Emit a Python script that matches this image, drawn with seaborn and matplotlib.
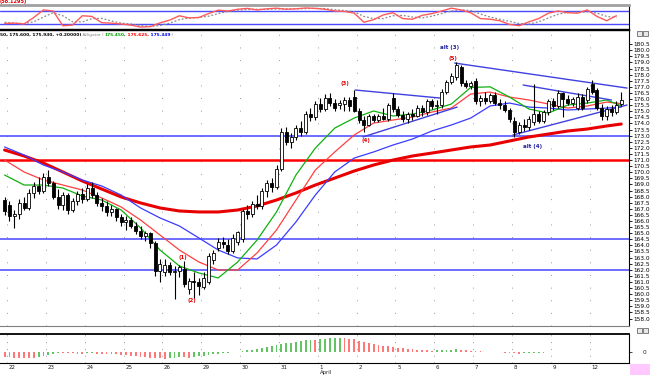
import numpy as np
import pandas as pd
import matplotlib
matplotlib.use("Agg")
import matplotlib.pyplot as plt
import seaborn as sns
from matplotlib.patches import Rectangle

# ---------------- data ----------------
day_labels = ["22", "23", "24", "25", "26", "29", "30", "31", "1", "2", "5", "6", "7", "8", "9", "12"]
month_label = "April"
month_day = "1"

opens = [
    167.7,
    167.3, 166.4, 166.6, 167.5, 167.1, 168.3, 168.9, 168.5,
    169.6, 169.1, 168.0, 167.3, 168.1, 166.9, 167.6, 168.2,
    167.8, 168.7, 168.1, 167.5, 167.2, 166.7, 167.0, 166.3,
    165.9, 166.1, 165.6, 165.2, 164.8, 165.0, 164.2, 161.9,
    161.8, 162.4, 161.8, 161.9, 162.1, 160.4, 161.1, 161.0,
    160.6, 161.0, 162.8, 163.8, 164.3, 164.0, 163.5, 164.3,
    164.5, 166.8, 166.6, 167.4, 167.2, 168.5, 169.1, 168.8,
    170.3, 173.3, 172.5, 172.9, 173.6, 173.3, 174.8, 174.5,
    175.6, 175.2, 176.1, 175.7, 175.5, 175.6, 175.9, 176.2,
    175.0, 174.3, 173.9, 174.6, 174.3, 174.6, 174.4, 176.1,
    175.2, 174.7, 174.4, 174.8, 174.6, 175.3, 174.9, 175.8,
    175.4, 175.5, 176.6, 177.4, 177.8, 178.6, 177.3, 177.1,
    177.5, 175.8, 176.1, 175.8, 176.3, 175.7, 175.5, 175.1,
    174.2, 173.3, 173.9, 173.7, 174.1, 174.8, 174.2, 174.9,
    175.8, 175.4, 176.5, 176.0, 175.7, 175.3, 176.2, 175.9,
    177.2, 176.7, 175.3, 174.6, 175.2, 174.9, 175.6,
]
highs = [
    168.0,
    167.6, 166.9, 167.8, 168.0, 168.6, 169.2, 169.6, 169.9,
    170.2, 169.3, 168.6, 168.4, 168.3, 167.9, 168.5, 168.7,
    169.0, 169.2, 168.4, 167.9, 167.6, 167.3, 167.1, 166.6,
    166.4, 166.3, 165.9, 165.6, 165.2, 165.1, 164.4, 162.9,
    162.9, 162.6, 162.3, 162.4, 162.7, 161.3, 161.8, 161.3,
    161.8, 163.4, 163.6, 164.6, 164.7, 164.5, 164.9, 165.2,
    167.0, 167.3, 167.6, 168.1, 168.7, 169.4, 169.5, 170.6,
    173.6, 173.7, 173.2, 173.9, 174.2, 175.0, 175.3, 175.8,
    176.1, 176.4, 176.5, 176.0, 175.9, 176.2, 176.2, 176.7,
    175.3, 174.6, 174.8, 174.8, 174.8, 175.3, 175.7, 176.5,
    175.4, 175.0, 174.9, 175.2, 175.5, 175.5, 176.0, 176.0,
    175.9, 176.8, 177.6, 178.1, 179.0, 178.8, 177.6, 177.5,
    177.7, 176.3, 176.6, 176.5, 176.6, 176.0, 175.8, 175.3,
    174.5, 174.1, 174.4, 174.6, 177.2, 175.0, 175.1, 176.0,
    176.1, 176.7, 176.6, 176.3, 176.2, 176.5, 176.4, 177.0,
    177.6, 176.9, 175.6, 175.4, 175.5, 175.8, 176.6,
]
lows = [
    166.5,
    166.0, 165.4, 166.2, 166.9, 166.9, 167.9, 168.2, 168.3,
    168.9, 167.8, 167.0, 166.9, 166.6, 166.7, 167.3, 167.5,
    167.6, 167.9, 167.2, 166.8, 166.4, 166.4, 166.0, 165.6,
    165.3, 165.4, 164.9, 164.5, 164.4, 163.8, 161.5, 161.0,
    161.5, 161.6, 159.6, 161.4, 160.6, 160.0, 159.7, 159.9,
    160.4, 160.8, 162.5, 163.5, 163.8, 163.3, 163.4, 164.0,
    164.3, 166.2, 166.3, 167.0, 167.0, 168.0, 168.4, 168.6,
    170.1, 172.2, 172.0, 172.6, 173.0, 173.1, 174.2, 174.3,
    174.9, 175.0, 175.4, 175.0, 175.2, 175.0, 175.0, 174.9,
    174.0, 173.3, 173.8, 174.1, 174.1, 174.3, 174.2, 174.9,
    174.5, 174.1, 174.0, 174.3, 174.5, 174.6, 174.7, 175.2,
    174.8, 175.3, 176.4, 177.2, 177.6, 177.1, 176.9, 176.8,
    175.6, 175.4, 175.6, 175.7, 175.5, 175.2, 174.9, 174.1,
    172.9, 173.1, 173.4, 173.5, 173.9, 174.0, 174.0, 174.7,
    175.1, 175.3, 174.5, 175.5, 175.4, 175.1, 175.1, 175.7,
    176.4, 175.1, 174.3, 174.3, 174.6, 174.8, 175.4,
]
closes = [
    166.8,
    166.4, 166.6, 167.5, 167.1, 168.3, 168.9, 168.5, 169.6,
    169.1, 168.0, 167.3, 168.1, 166.9, 167.6, 168.2, 167.8,
    168.7, 168.1, 167.5, 167.2, 166.7, 167.0, 166.3, 165.9,
    166.1, 165.6, 165.2, 164.8, 165.0, 164.2, 161.9, 162.5,
    162.4, 161.8, 161.9, 162.2, 160.8, 161.1, 161.0, 160.7,
    161.3, 163.1, 163.4, 164.3, 164.1, 163.5, 164.6, 165.1,
    166.8, 166.6, 167.4, 167.2, 168.5, 169.1, 168.8, 170.3,
    173.3, 172.5, 172.9, 173.6, 173.3, 174.8, 174.5, 175.6,
    175.2, 176.1, 175.7, 175.3, 175.7, 175.9, 175.4, 175.0,
    174.3, 173.9, 174.6, 174.3, 174.6, 174.4, 175.5, 175.2,
    174.7, 174.4, 174.8, 174.6, 175.3, 174.9, 175.8, 175.4,
    175.5, 176.6, 177.4, 177.9, 178.8, 177.3, 177.1, 177.3,
    175.8, 176.1, 175.8, 176.3, 175.7, 175.5, 175.1, 174.4,
    173.3, 173.9, 173.7, 174.4, 174.8, 174.2, 174.9, 175.8,
    175.4, 176.5, 176.0, 175.7, 176.0, 176.2, 175.3, 176.8,
    176.6, 175.3, 174.6, 175.2, 174.9, 175.5, 175.9,
]

# moving-average lines sampled every 4 bars
ma_pos = [0, 4, 8, 12, 16, 20, 24, 28, 32, 36, 40, 44, 48, 52, 56, 60, 64,
          68, 72, 76, 80, 84, 88, 92, 96, 100, 104, 108, 112, 116, 120, 124, 127]
lips_green = [169.77, 168.95, 168.95, 168.70, 168.05, 167.72, 166.90, 165.43, 163.62, 162.31,
              161.74, 161.33, 162.64, 164.44, 166.74, 169.77, 171.98, 173.62, 174.44, 175.02,
              174.61, 174.77, 175.10, 175.59, 176.95, 177.00, 176.16, 175.18, 174.85, 175.51,
              175.67, 175.92, 175.45]
teeth_red = [171.00, 170.02, 169.36, 168.95, 168.54, 167.89, 167.15, 166.08, 164.85, 163.62,
             162.64, 161.98, 161.98, 163.38, 165.26, 167.72, 170.18, 171.66, 173.05, 174.03,
             174.28, 174.52, 174.93, 175.26, 176.41, 176.57, 176.16, 175.92, 175.59, 175.26,
             175.43, 175.75, 175.625]
jaw_blue = [172.07, 171.41, 170.59, 170.02, 169.36, 168.87, 168.13, 167.07, 166.25, 165.59,
            164.61, 163.62, 162.97, 162.89, 164.03, 165.92, 168.13, 170.02, 171.16, 171.66,
            172.23, 172.72, 173.38, 173.87, 174.44, 175.43, 175.67, 175.34, 175.26, 175.10,
            175.18, 175.26, 175.349]
ma_long = [171.82, 171.33, 170.75, 170.02, 169.28, 168.62, 167.97, 167.48, 167.07, 166.82,
           166.74, 166.74, 166.90, 167.23, 167.72, 168.30, 168.95, 169.52, 170.10, 170.59,
           171.00, 171.33, 171.57, 171.82, 172.07, 172.23, 172.56, 172.89, 173.13, 173.38,
           173.54, 173.79, 173.95]

# horizontal levels
blue_levels = [173.0, 164.5, 162.0]
red_level = 171.0

# trend lines (bar index, price)
trend_x0 = [72.2, 73.8, 92.7, 106.8, 104.7]
trend_y0 = [176.74, 172.89, 178.95, 177.15, 173.05]
trend_x1 = [89.7, 93.2, 128.2, 125.0, 128.2]
trend_y1 = [176.08, 175.34, 176.90, 175.92, 175.51]

# wave labels
wave_text = ["(1)", "(2)", "(3)", "(4)", "(5)", "alt (3)", "alt (4)"]
wave_x = [36.7, 38.6, 70.1, 74.4, 92.3, 91.7, 108.8]
wave_y = [162.97, 159.52, 177.3, 172.6, 179.36, 180.26, 172.07]
wave_col = ["red", "red", "red", "red", "red", "blue", "blue"]

# top oscillator (every 2 bars)
osc_pos = list(range(0, 128, 2))
osc_k = [22, 24, 20, 50, 85, 80, 12, 15, 58, 55, 26, 24, 20, 15, 6, 8,
         25, 38, 58, 48, 50, 68, 84, 80, 88, 92, 85, 90, 93, 88, 90, 94,
         92, 88, 80, 78, 70, 28, 40, 62, 72, 45, 42, 60, 68, 80, 93, 85,
         72, 45, 42, 35, 18, 12, 30, 45, 70, 80, 72, 70, 85, 55, 35, 58]
osc_d = [28, 24, 22, 30, 52, 72, 58, 30, 30, 45, 46, 34, 24, 20, 13, 9,
         13, 24, 40, 48, 50, 56, 68, 78, 84, 87, 88, 88, 89, 90, 90, 91,
         92, 91, 86, 82, 76, 55, 45, 45, 58, 60, 52, 48, 56, 68, 80, 86,
         82, 66, 52, 42, 32, 22, 20, 30, 48, 65, 74, 74, 76, 70, 55, 50]
osc_levels = [80, 20]
osc_title = "(58.1295)"

# bottom histogram (one per bar)
ao = [-5.0, -5.3, -5.6, -5.8, -6.0, -6.1, -6.2,
      -5.2, -4.0,
      -2.5, -1.5, -0.8,
      -1.0, -1.2, -1.4, -1.5, -1.6,
      -1.4, -1.3, -1.5, -1.7, -1.9, -2.0,
      -2.4, -2.9, -3.4, -3.9, -4.4, -4.8, -5.2,
      -5.5, -5.9, -6.3, -6.6,
      -6.2, -5.8, -5.2,
      -5.4, -5.6,
      -5.0, -4.4, -3.7, -3.0, -2.4, -1.8, -1.2, -0.7, -0.3,
      0.2,
      0.8, 1.6, 2.4, 3.3, 4.2, 5.0, 5.9, 6.8, 7.7, 8.6, 9.4, 10.2, 11.0, 11.7,
      12.3, 12.0, 12.8, 13.5, 14.0, 14.3, 14.5,
      14.0, 13.4, 12.6, 11.5, 10.3, 9.2, 8.2, 7.3, 6.4, 5.6, 4.9, 4.3, 3.7, 3.2, 2.8, 2.4, 2.0, 1.7, 1.4,
      1.6, 1.9, 2.2, 2.5, 2.7,
      2.4, 1.9, 1.3,
      0.9, 0.6, 0.4, 0.2, 0.0, -0.3,
      -0.6, -1.0, -1.3, -1.5,
      -1.3, -1.1, -0.9, -0.7, -0.5, -0.3, -0.2, -0.1,
      0.1, 0.2, 0.1, 0.0, -0.2,
      0.1, 0.3, 0.2, 0.0, -0.1, -0.05, 0.05, 0.1]

header_pieces = [("50, 175.600, 175.930, +0.20000)", "black", "bold"),
                 (" Alligator (", "#8a8a8a", "normal"),
                 ("175.450,", "#00a000", "bold"),
                 (" 175.625,", "#ff0000", "bold"),
                 (" 175.349", "#0000ff", "bold"),
                 (" )", "#8a8a8a", "normal")]

# ---------------- drawing ----------------
sns.set_style("white")
plt.rcParams['font.family'] = ['DejaVu Sans']

W, H = 650, 375
fig = plt.figure(figsize=(6.5, 3.75), dpi=100)
fig.patch.set_facecolor("white")


def rect(x0, y0, x1, y1):
    return [x0 / W, 1 - y1 / H, (x1 - x0) / W, (y1 - y0) / H]


XL = (-0.95, 128.6)
ax_osc = fig.add_axes(rect(0, 5, 629, 29))
ax = fig.add_axes(rect(0, 30, 629, 326))
ax_ao = fig.add_axes(rect(0, 334, 629, 363))
for a in (ax_osc, ax, ax_ao):
    a.set_xlim(*XL)
    a.set_facecolor("white")

day_pos = [0.5 + 8 * k for k in range(len(day_labels))]

# ---- oscillator panel ----
ax_osc.set_ylim(-3.1, 107.7)
for lv in osc_levels:
    ax_osc.axhline(lv, color="#4a4aff", lw=1.0, zorder=1)
sns.lineplot(x=osc_pos, y=osc_d, ax=ax_osc, color="#8c8c8c", linewidth=0.9,
             linestyle=(0, (1.5, 1.5)), legend=False, zorder=2)
sns.lineplot(x=osc_pos, y=osc_k, ax=ax_osc, color="#ff5a5a", linewidth=1.0,
             legend=False, zorder=3)
ax_osc.set_xticks([]); ax_osc.set_yticks([])
ax_osc.set_xlabel(""); ax_osc.set_ylabel("")
ax_osc.spines["left"].set_visible(False)
ax_osc.spines["top"].set_color("#a0a0a0"); ax_osc.spines["top"].set_linewidth(2)
ax_osc.spines["bottom"].set_color("black"); ax_osc.spines["bottom"].set_linewidth(1)
ax_osc.spines["right"].set_color("black"); ax_osc.spines["right"].set_linewidth(0.8)

fig.text(0.0, 1 - 1.5 / H, osc_title, color="#e00000", fontsize=3.6,
         fontweight="bold", ha="left", va="center")

# ---- main panel ----
ax.set_ylim(157.39, 181.66)
for xg in day_pos:
    ax.axvline(xg, color="#9a9a9a", lw=0.7, linestyle=(0, (1, 12)), zorder=0)
for lv in blue_levels:
    ax.axhline(lv, color="#4646ff", lw=1.1, zorder=1)
ax.axhline(red_level, color="#ff0000", lw=1.8, zorder=1)

sns.lineplot(x=ma_pos, y=ma_long, ax=ax, color="#e80000", linewidth=2.2, legend=False, zorder=2)
sns.lineplot(x=ma_pos, y=jaw_blue, ax=ax, color="#3c3cff", linewidth=0.9, legend=False, zorder=2)
sns.lineplot(x=ma_pos, y=teeth_red, ax=ax, color="#ff4040", linewidth=0.9, legend=False, zorder=2)
sns.lineplot(x=ma_pos, y=lips_green, ax=ax, color="#10b010", linewidth=0.9, legend=False, zorder=2)

for x0, y0, x1, y1 in zip(trend_x0, trend_y0, trend_x1, trend_y1):
    ax.plot([x0, x1], [y0, y1], color="#4040e0", lw=1.0, zorder=2)

o = np.array(opens); h = np.array(highs); l = np.array(lows); c = np.array(closes)
idx = np.arange(len(o))
ax.vlines(idx, l, h, color="black", lw=0.8, zorder=3)
up = c >= o
bot = np.minimum(o, c)
bh = np.maximum(np.abs(c - o), 0.05)
ax.bar(idx[up], bh[up], bottom=bot[up], width=0.62, facecolor="white",
       edgecolor="black", linewidth=0.6, zorder=4)
ax.bar(idx[~up], bh[~up], bottom=bot[~up], width=0.62, facecolor="black",
       edgecolor="black", linewidth=0.6, zorder=4)

for t, x, y, col in zip(wave_text, wave_x, wave_y, wave_col):
    ax.text(x, y, t, color=("#e00000" if col == "red" else "#1e1ea0"),
            fontsize=4.0, fontweight="bold", ha="center", va="center", zorder=6)

ax.yaxis.tick_right()
ticks = np.arange(158.0, 180.51, 0.5)
ax.set_yticks(ticks)
ax.set_yticklabels([f"{v:.1f}" for v in ticks])
ax.tick_params(axis="y", direction="out", length=2, width=0.6, labelsize=4.2,
               pad=1, colors="black")
ax.set_xticks([])
ax.set_xlabel(""); ax.set_ylabel("")
ax.spines["left"].set_visible(False)
ax.spines["top"].set_color("black"); ax.spines["top"].set_linewidth(1.0)
ax.spines["right"].set_color("black"); ax.spines["right"].set_linewidth(0.8)
ax.spines["bottom"].set_color("#808080"); ax.spines["bottom"].set_linewidth(0.8)

# header row (multi-coloured text)
t = ax.text(0.0, 1 - 35 / H, header_pieces[0][0], transform=fig.transFigure,
            color=header_pieces[0][1], fontweight=header_pieces[0][2],
            fontsize=3.2, ha="left", va="center", zorder=7)
for s, col, wt in header_pieces[1:]:
    t = ax.annotate(s, xy=(1, 0.5), xycoords=t, va="center", ha="left",
                    color=col, fontweight=wt, fontsize=3.2, annotation_clip=False)

# ---- histogram panel ----
ax_ao.set_ylim(-11, 18)
for xg in day_pos:
    ax_ao.axvline(xg, color="#9a9a9a", lw=0.7, linestyle=(0, (1, 6)), zorder=0)
ao_arr = np.array(ao)
prev = np.concatenate([[ao_arr[0] + 0.1], ao_arr[:-1]])
cols = np.where(ao_arr >= prev, "#62c462", "#ff7878")
ax_ao.bar(idx, ao_arr, width=0.38, color=cols, linewidth=0, zorder=2)
ax_ao.yaxis.tick_right()
ax_ao.set_yticks([0])
ax_ao.set_yticklabels(["0"])
ax_ao.tick_params(axis="y", direction="out", length=2, width=0.6, labelsize=4.2, pad=8)
ax_ao.set_xticks(day_pos)
ax_ao.set_xticks([p + 0.5 for p in range(-1, 128)], minor=True)
ax_ao.set_xticklabels([])
ax_ao.tick_params(axis="x", which="major", direction="out", length=6, width=0.7, colors="black")
ax_ao.tick_params(axis="x", which="minor", direction="in", length=2, width=0.5, colors="black")
for p, lab in zip(day_pos, day_labels):
    ax_ao.text(p + 0.35, -0.17, lab, transform=ax_ao.get_xaxis_transform(),
               fontsize=4.0, ha="left", va="center", color="#202020")
    if lab == month_day:
        ax_ao.text(p + 0.35, -0.34, month_label, transform=ax_ao.get_xaxis_transform(),
                   fontsize=3.8, ha="left", va="center", color="#202020")
ax_ao.set_xlabel(""); ax_ao.set_ylabel("")
ax_ao.spines["left"].set_visible(False)
ax_ao.spines["top"].set_color("black"); ax_ao.spines["top"].set_linewidth(1.3)
ax_ao.spines["right"].set_color("black"); ax_ao.spines["right"].set_linewidth(0.8)
ax_ao.spines["bottom"].set_color("black"); ax_ao.spines["bottom"].set_linewidth(0.8)

# ---- decorations: icons and pink box ----
for (x0, y0) in [(637, 31), (643, 31), (637, 328), (643, 328)]:
    fig.patches.append(Rectangle((x0 / W, 1 - (y0 + 5) / H), 5 / W, 5 / H,
                                 transform=fig.transFigure, facecolor="#e8e8e8",
                                 edgecolor="#505050", linewidth=0.5))
fig.patches.append(Rectangle((630 / W, 0), 20 / W, 11 / H, transform=fig.transFigure,
                             facecolor="#ffc8ff", edgecolor="none"))

fig.savefig("out.png", dpi=100)
